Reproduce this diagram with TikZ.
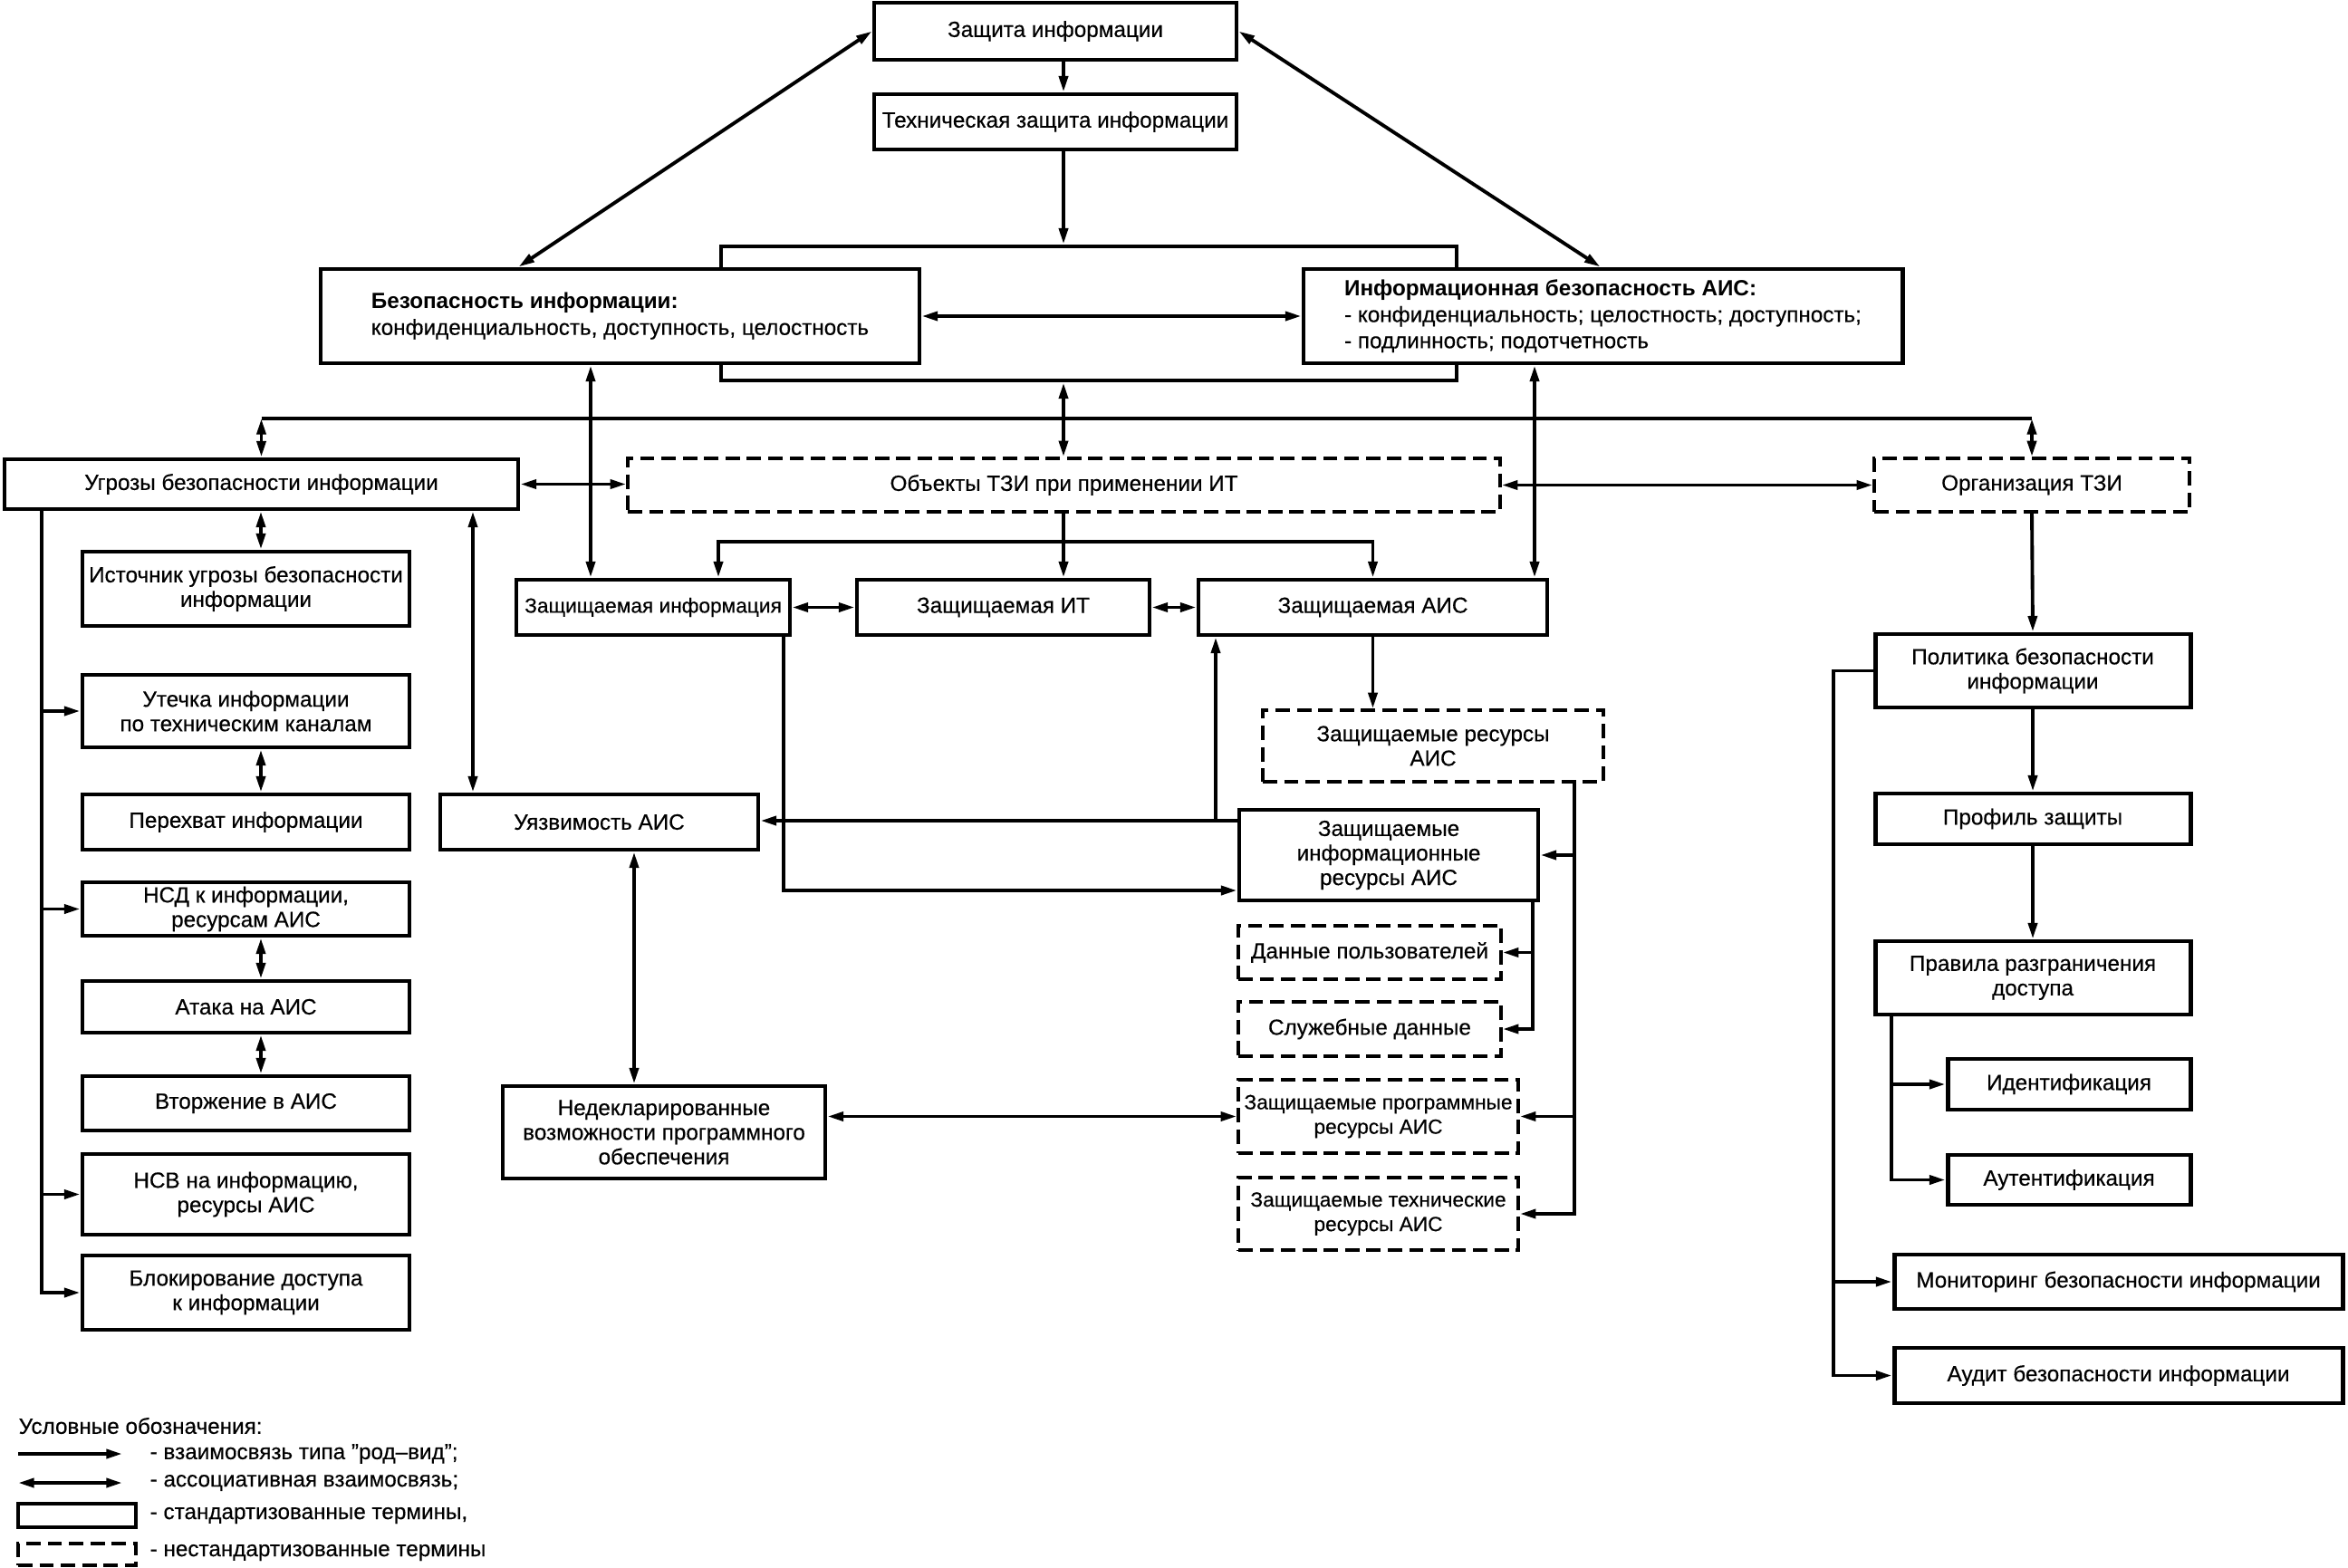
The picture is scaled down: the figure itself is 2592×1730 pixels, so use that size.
\documentclass[tikz,border=0pt]{standalone}
\usepackage{fontspec}
\setmainfont[UprightFeatures={FakeBold=0.4}]{Liberation Sans}
\usetikzlibrary{arrows.meta,calc}
\begin{document}
\begin{tikzpicture}[x=0.01cm,y=-0.01cm,
  every node/.style={font=\fontsize{6.9}{7.7}\selectfont, inner sep=0pt, align=center},
  sz/.style 2 args={minimum width=#1*0.01cm, minimum height=#2*0.01cm},
  std/.style={draw, line width=1.4pt, fill=white},
  nst/.style={draw, line width=1pt, dash pattern=on 4.5pt off 2.2pt, fill=white},
  small/.style={font=\fontsize{6.45}{7.7}\selectfont},
  con/.style={line width=1.1pt},
  gv/.style={con, -{Triangle[length=5pt,width=2.8pt]}},
  as/.style={con, {Triangle[length=5pt,width=2.8pt]}-{Triangle[length=5pt,width=2.8pt]}},
  ttl/.style={font=\fontsize{6.9}{8.2}\selectfont, align=left},
]
\useasboundingbox (0,0) rectangle (2592,1730);

% ---------- top ----------
\node[std, sz={812}{148}] (big) at (1202,346) {};
\node[std, sz={400}{63}] (zi) at (1165,34.5) {Защита информации};
\node[std, sz={400}{61}] (tzi) at (1165,134.5) {Техническая защита информации};
\node[std, sz={661}{104}, ttl] (bi) at (684.5,349)
  {\textbf{Безопасность информации:}\\конфиденциальность, доступность, целостность};
\node[std, sz={661}{104}, ttl] (ib) at (1769.5,349)
  {\textbf{Информационная безопасность АИС:}\\- конфиденциальность; целостность; доступность;\\- подлинность; подотчетность};

% ---------- second row ----------
\node[std, sz={567}{55}] (ug) at (288.5,534.5) {Угрозы безопасности информации};
\node[nst, sz={963}{59}] (ob) at (1174.5,535.5) {Объекты ТЗИ при применении ИТ};
\node[nst, sz={348}{59}] (org) at (2243,535.5) {Организация ТЗИ};

% ---------- left column ----------
\node[std, sz={361}{82}] (ist) at (271.5,650) {Источник угрозы безопасности\\информации};
\node[std, sz={361}{80}] (ut) at (271.5,785) {Утечка информации\\по техническим каналам};
\node[std, sz={361}{61}] (per) at (271.5,907.5) {Перехват информации};
\node[std, sz={361}{59}] (nsd) at (271.5,1003.5) {НСД к информации,\\ресурсам АИС};
\node[std, sz={361}{57}] (at) at (271.5,1111.5) {Атака на АИС};
\node[std, sz={361}{60}] (vt) at (271.5,1218) {Вторжение в АИС};
\node[std, sz={361}{89}] (nsv) at (271.5,1318.5) {НСВ на информацию,\\ресурсы АИС};
\node[std, sz={361}{82}] (bl) at (271.5,1427) {Блокирование доступа\\к информации};

% ---------- middle ----------
\node[std, sz={351}{61}] (uy) at (661.5,907.5) {Уязвимость АИС};
\node[std, sz={356}{102}] (nd) at (733,1250) {Недекларированные\\возможности программного\\обеспечения};
\node[std, sz={302}{61}, small] (zinf) at (721,670.5) {Защищаемая информация};
\node[std, sz={323}{61}] (zit) at (1107.5,670.5) {Защищаемая ИТ};
\node[std, sz={385}{61}] (zais) at (1515.5,670.5) {Защищаемая АИС};
\node[nst, sz={376}{79}] (zres) at (1582,823.5) {Защищаемые ресурсы\\АИС};
\node[std, sz={330}{100}] (zir) at (1533,944) {Защищаемые\\информационные\\ресурсы АИС};
\node[nst, sz={290}{59}] (dp) at (1512,1051.5) {Данные пользователей};
\node[nst, sz={290}{60}] (sd) at (1512,1136) {Служебные данные};
\node[nst, sz={309}{81}, small] (zpr) at (1521.5,1232.5) {Защищаемые программные\\ресурсы АИС};
\node[nst, sz={309}{80}, small] (ztr) at (1521.5,1340) {Защищаемые технические\\ресурсы АИС};

% ---------- right column ----------
\node[std, sz={348}{81}] (pol) at (2244,740.5) {Политика безопасности\\информации};
\node[std, sz={348}{56}] (prof) at (2244,904) {Профиль защиты};
\node[std, sz={348}{81}] (prav) at (2244,1079.5) {Правила разграничения\\доступа};
\node[std, sz={268}{56}] (id) at (2284,1197) {Идентификация};
\node[std, sz={268}{55}] (aut) at (2284,1302.5) {Аутентификация};
\node[std, sz={495}{60}] (mon) at (2338.5,1415) {Мониторинг безопасности информации};
\node[std, sz={495}{61}] (aud) at (2338.5,1518.5) {Аудит безопасности информации};

% ---------- helper coordinates ----------
\coordinate (cx) at (1174,0);
\coordinate (hl) at (0,462);
\coordinate (ll) at (46,0);
\coordinate (lx) at (288,0);
\coordinate (c522) at (522,0);
\coordinate (c700) at (700,0);
\coordinate (c652) at (652,0);
\coordinate (c1694) at (1694,0);
\coordinate (c793) at (793,0);
\coordinate (r1) at (0,598);
\coordinate (k1) at (865,983);
\coordinate (k2) at (1342,906);
\coordinate (k3) at (1738,0);
\coordinate (k6) at (1692,0);
\coordinate (k4) at (2088,0);
\coordinate (k5) at (2024,0);

% ---------- connectors: top ----------
\draw[gv] (zi.south -| cx) -- (tzi.north -| cx);
\draw[gv] (tzi.south -| cx) -- (big.north -| cx);
\draw[as] (zi.west) -- ($(bi.north)+(-112,0)$);
\draw[as] (zi.east) -- ($(ib.north)+(-3,0)$);
\draw[as] (bi.east) -- (ib.west);
\draw[as] (big.south -| cx) -- (ob.north -| cx);
\draw[con] (ug.north |- hl) -- (org.north |- hl);
\draw[as] (ug.north |- hl) -- (ug.north);
\draw[as] (org.north |- hl) -- (org.north);
\draw[as] (ug.east) -- (ug.east -| ob.west);
\draw[as] (ob.east) -- (ob.east -| org.west);

% ---------- connectors: left ----------
\draw[as] (ug.south -| lx) -- (ist.north -| lx);
\draw[gv] (ug.south -| ll) |- (bl.west);
\draw[gv] (ut.west -| ll) -- (ut.west);
\draw[gv] (nsd.west -| ll) -- (nsd.west);
\draw[gv] (nsv.west -| ll) -- (nsv.west);
\draw[as] (ut.south -| lx) -- (per.north -| lx);
\draw[as] (nsd.south -| lx) -- (at.north -| lx);
\draw[as] (at.south -| lx) -- (vt.north -| lx);
\draw[as] (ug.south -| c522) -- (uy.north -| c522);
\draw[as] (uy.south -| c700) -- (nd.north -| c700);

% ---------- connectors: middle ----------
\draw[as] (bi.south -| c652) -- (zinf.north -| c652);
\draw[as] (ib.south -| c1694) -- (zais.north -| c1694);
\draw[gv] (ob.south -| cx) -- (zit.north -| cx);
\draw[gv] (r1 -| cx) -| (zais.north);
\draw[gv] (r1 -| cx) -| (zinf.north -| c793);
\draw[as] (zinf.east) -- (zit.west);
\draw[as] (zit.east) -- (zais.west);
\draw[gv] (zais.south) -- (zais.south |- zres.north);
\draw[gv] (zinf.south -| k1) |- (zir.west |- k1);
\draw[gv] (zir.west |- k2) -- (uy.east |- k2);
\draw[gv] (k2) -- (zais.south -| k2);
\draw[gv] (zres.south -| k3) |- (ztr.east);
\draw[gv] (zir.east -| k3) -- (zir.east);
\draw[gv] (zpr.east -| k3) -- (zpr.east);
\draw[gv] (zir.south -| k6) |- (sd.east);
\draw[gv] (dp.east -| k6) -- (dp.east);
\draw[as] (nd.east |- zpr.west) -- (zpr.west);

% ---------- connectors: right ----------
\draw[gv] (org.south) -- (pol.north);
\draw[gv] (pol.south) -- (prof.north);
\draw[gv] (prof.south) -- (prav.north);
\draw[gv] (prav.south -| k4) |- (aut.west);
\draw[gv] (id.west -| k4) -- (id.west);
\draw[gv] (pol.west) -- (pol.west -| k5) |- (aud.west);
\draw[gv] (mon.west -| k5) -- (mon.west);

% ---------- legend ----------
\node[anchor=west] (lgt) at (20,1574) {Условные обозначения:};
\coordinate (la1) at (20,1605);
\coordinate (lb1) at (135,1605);
\coordinate (la2) at (20,1637);
\coordinate (lb2) at (135,1637);
\draw[gv] (la1) -- (lb1);
\draw[as] (la2) -- (lb2);
\node[std, sz={130}{26}] (lbox1) at (85,1673) {};
\node[nst, sz={130}{24}] (lbox2) at (85,1716) {};
\node[anchor=west] (lt1) at (165,1605) {- взаимосвязь типа "род–вид";};
\node[anchor=west] (lt2) at (165,1637) {- ассоциативная взаимосвязь;};
\node[anchor=west] (lt3) at (165,1673) {- стандартизованные термины,};
\node[anchor=west] (lt4) at (165,1714) {- нестандартизованные термины};
\end{tikzpicture}
\end{document}
